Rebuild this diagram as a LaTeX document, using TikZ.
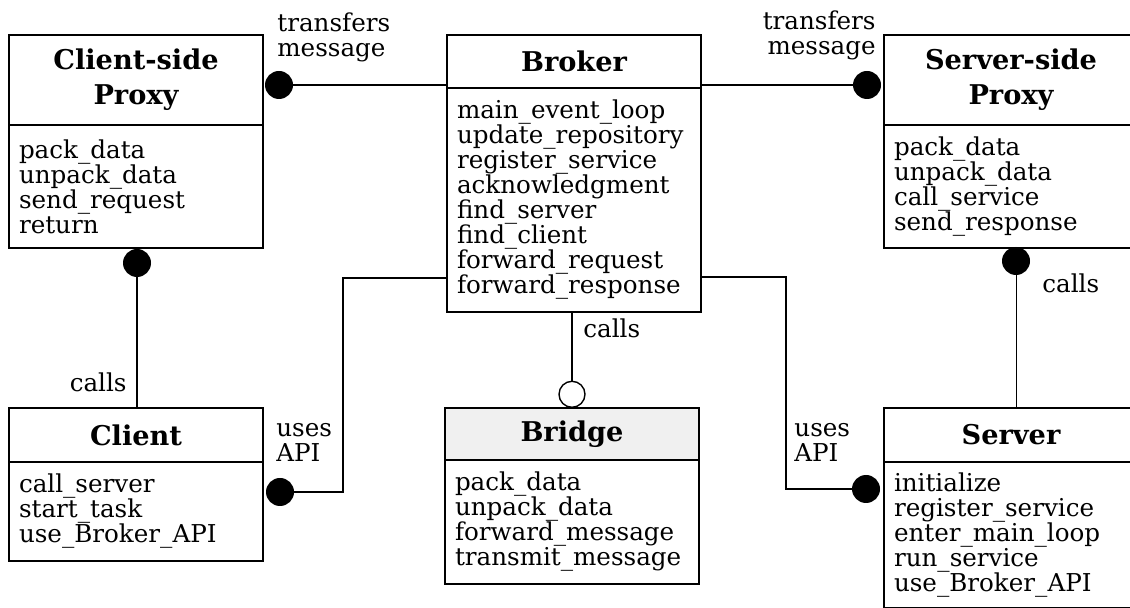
\documentclass[tikz,border=0pt]{standalone}
\usepackage{fontspec}
\setmainfont{DejaVu Serif}
\usetikzlibrary{positioning}
\newcommand\headfont{\fontsize{13.6}{17.5}\selectfont\bfseries}
\newcommand\opsfont{\fontsize{12.3}{12.5}\selectfont}
\begin{document}
\begin{tikzpicture}[x=0.5pt,y=-0.5pt,
  head/.style={draw,line width=0.9pt,outer sep=0pt,anchor=north west,minimum width=127pt,align=center,font=\headfont},
  ops/.style={draw,line width=0.9pt,outer sep=0pt,text width=117pt,inner xsep=5pt,align=left,font=\opsfont},
  blob/.style={circle,fill,inner sep=0pt,minimum size=14pt},
  ring/.style={circle,draw,line width=0.7pt,inner sep=0pt,minimum size=13pt},
  conn/.style={line width=0.7pt},
  lbl/.style={font=\opsfont,inner sep=0pt}]
\useasboundingbox (0,0) rectangle (1130,608);
% classes: name/x/y/title/head height/operations/ops height/fill
\foreach \n/\x/\y/\t/\h/\o/\l/\f in {
  cproxy/9/35/{Client-side\\Proxy}/45/{pack\_data\\unpack\_data\\send\_request\\return}/61.5/white,
  broker/447/35/Broker/26.5/{main\_event\_loop\\update\_repository\\register\_service\\acknowledgment\\find\_server\\find\_client\\forward\_request\\forward\_response}/112/white,
  sproxy/884/35/{Server-side\\Proxy}/45/{pack\_data\\unpack\_data\\call\_service\\send\_response}/61.5/white,
  client/9/408/Client/27/{call\_server\\start\_task\\use\_Broker\_API}/49.5/white,
  bridge/445/408/Bridge/26/{pack\_data\\unpack\_data\\forward\_message\\transmit\_message}/62/gray!12,
  server/884/408/Server/27/{initialize\\register\_service\\enter\_main\_loop\\run\_service\\use\_Broker\_API}/73/white}
{
  \node[head,fill=\f,minimum height=\h pt] (\n) at (\x,\y) {\t};
  \node[ops,minimum height=\l pt,below=0pt of \n] (\n-ops) {\o};
}

% connection ends
\node[blob] (cpdot) at (279,85) {};
\node[blob] (spdot) at (867,85) {};
\node[blob] (cpcall) at (137,263) {};
\node[blob] (spcall) at (1016,261) {};
\node[blob] (cluse) at (280,492) {};
\node[blob] (svuse) at (866,489) {};
\node[ring,above=0pt of bridge] (brring) {};

\draw[conn] (cpdot) -- (broker.west |- cpdot);
\draw[conn] (broker.east |- spdot) -- (spdot);
\draw[conn] (cpcall) -- (cpcall |- client.north);
\draw[line width=0.4pt] (spcall) -- (spcall |- server.north);
\draw[conn] (cluse) -| (343,278) -- (broker-ops.west |- 0,278);
\draw[conn] (svuse) -| (786,277) -- (broker-ops.east |- 0,277);
\draw[conn] (brring |- broker-ops.south) -- (brring);

% labels
\node[lbl,anchor=west,align=left] (tmleft) at (277,37) {transfers\\message};
\node[lbl,anchor=east,align=right] (tmright) at (876,35) {transfers\\message};
\node[lbl,anchor=east] (cpcalls) at (127,382) {calls};
\node[lbl,anchor=west] (brcalls) at (583,328) {calls};
\node[lbl,anchor=west] (spcalls) at (1042,283) {calls};
\node[lbl,anchor=west,align=left] (cluses) at (276,442) {uses\\API};
\node[lbl,anchor=west,align=left] (svuses) at (794,442) {uses\\API};
\end{tikzpicture}
\end{document}
